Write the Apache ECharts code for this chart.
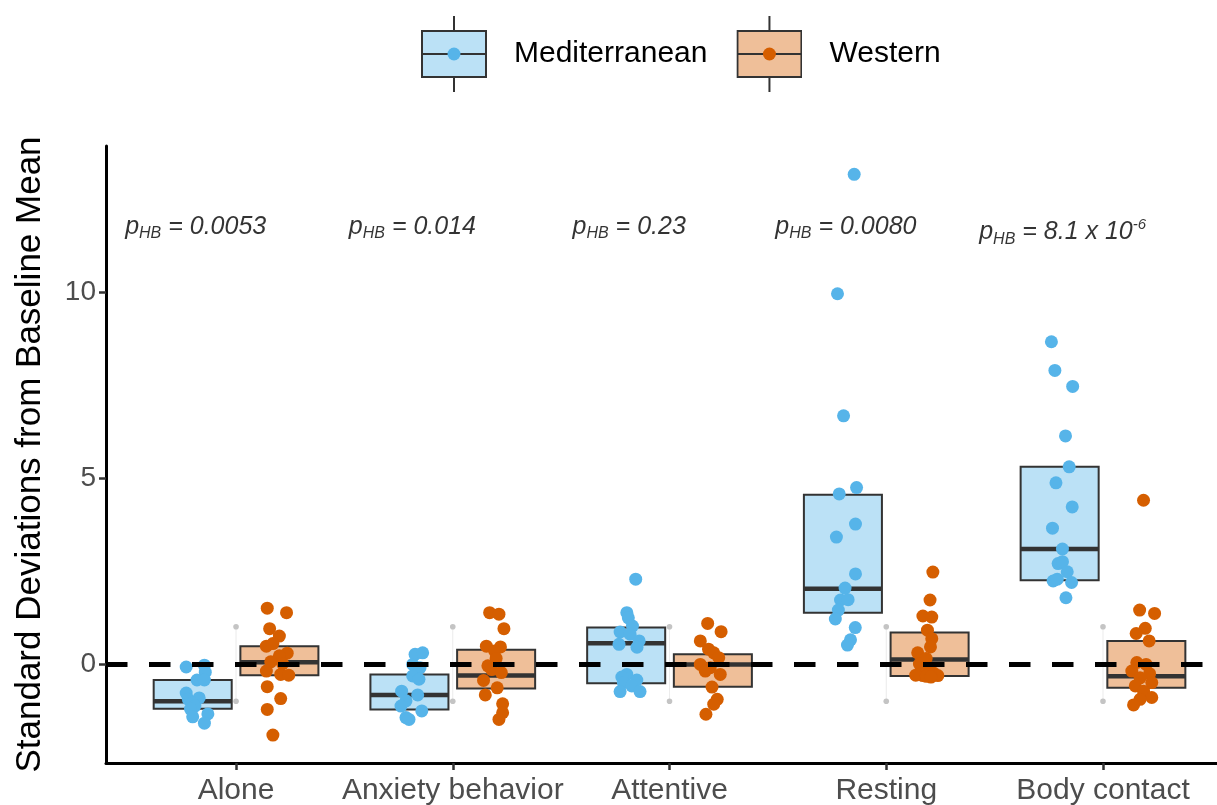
<!DOCTYPE html>
<html>
<head>
<meta charset="utf-8">
<script src="https://cdn.jsdelivr.net/npm/echarts@6/dist/echarts.min.js"></script>
<style>
  html, body { margin: 0; padding: 0; background: #fff; }
  #chart { width: 1217px; height: 805px; }
</style>
</head>
<body>
<div id="chart"></div>
<script>
var categories = ['Alone', 'Anxiety behavior', 'Attentive', 'Resting', 'Body contact'];
var groups = ['Mediterranean', 'Western'];
var yTicks = [0, 5, 10];
var baselineBand = [-1, 1];

// crossbar stats per category: [lower, median, upper]
var medBoxes = [[-1.20, -1.00, -0.43], [-1.22, -0.83, -0.28], [-0.52, 0.56, 0.98], [1.38, 2.02, 4.55], [2.25, 3.09, 5.30]];
var wesBoxes = [[-0.30, 0.05, 0.48], [-0.66, -0.31, 0.38], [-0.61, -0.01, 0.26], [-0.32, 0.12, 0.85], [-0.64, -0.33, 0.62]];

// individual animals
var medPoints = [
  [-0.08, -0.03, -0.22, -0.43, -0.43, -0.78, -0.91, -0.95, -1.05, -1.13, -1.21, -1.34, -1.42, -1.59],
  [0.26, 0.30, -0.01, -0.10, -0.32, -0.41, -0.73, -0.83, -0.99, -1.13, -1.26, -1.44, -1.49],
  [2.28, 1.38, 1.24, 1.02, 0.86, 0.80, 0.62, 0.53, 0.45, -0.28, -0.35, -0.43, -0.50, -0.59, -0.74, -0.74],
  [13.16, 9.95, 6.67, 4.57, 4.74, 3.76, 3.41, 2.42, 2.04, 1.72, 1.73, 1.45, 1.21, 0.98, 0.65, 0.51],
  [8.66, 7.89, 7.46, 6.13, 5.30, 4.87, 4.22, 3.65, 3.09, 2.70, 2.75, 2.48, 2.23, 2.28, 2.19, 1.78]
];
var medJitter = [
  [-0.03, 0.054, 0.058, 0.02, 0.054, -0.03, 0.03, -0.02, 0.0, 0.01, -0.01, 0.07, 0.0, 0.054],
  [0.026, 0.061, 0.015, 0.049, 0.015, 0.044, -0.036, 0.038, -0.016, -0.039, 0.057, -0.016, -0.002],
  [0.044, 0.003, 0.01, 0.029, -0.028, 0.018, 0.06, -0.033, 0.05, 0.003, -0.02, 0.049, -0.013, 0.026, -0.028, 0.064],
  [0.052, -0.025, 0.003, -0.017, 0.063, 0.058, -0.03, 0.058, 0.01, -0.011, 0.024, -0.021, -0.035, 0.057, 0.035, 0.021],
  [-0.038, -0.022, 0.06, 0.027, 0.044, -0.017, 0.058, -0.033, 0.013, -0.007, 0.013, 0.035, -0.03, -0.011, 0.055, 0.029]
];
var wesPoints = [
  [1.50, 1.38, 0.95, 0.75, 0.48, 0.55, 0.29, 0.22, 0.06, 0.01, -0.19, -0.28, -0.30, -0.61, -0.93, -1.22, -1.91],
  [1.38, 1.34, 0.95, 0.48, 0.46, 0.35, 0.15, -0.05, -0.15, -0.23, -0.44, -0.64, -0.83, -1.07, -1.31, -1.49],
  [1.09, 0.87, 0.62, 0.40, 0.30, 0.17, -0.01, -0.10, -0.28, -0.19, -0.62, -0.95, -1.08, -1.35],
  [2.47, 1.72, 1.29, 1.26, 0.91, 0.68, 0.46, 0.30, 0.15, 0.00, -0.16, -0.25, -0.31, -0.31, -0.30, -0.33, -0.35],
  [4.40, 1.45, 1.36, 0.96, 0.82, 0.62, 0.04, -0.01, -0.19, -0.26, -0.37, -0.50, -0.59, -0.73, -0.90, -0.95, -1.10]
];
var wesJitter = [
  [-0.056, 0.033, -0.045, 0.0, -0.06, -0.03, 0.036, 0.0, -0.04, 0.015, -0.06, 0.006, 0.043, -0.056, 0.006, -0.056, -0.03],
  [-0.03, 0.013, 0.036, -0.045, 0.02, -0.007, 0.0, -0.038, -0.02, 0.024, -0.058, 0.005, -0.05, 0.03, 0.03, 0.013],
  [-0.024, 0.038, -0.058, -0.02, 0.004, 0.027, -0.058, -0.012, 0.034, -0.035, -0.004, 0.02, 0.004, -0.032],
  [0.015, 0.002, -0.031, 0.01, -0.01, 0.01, 0.004, -0.055, -0.016, -0.047, -0.001, 0.02, -0.031, 0.038, -0.064, -0.015, 0.006],
  [-0.013, -0.031, 0.038, -0.005, -0.047, 0.013, -0.044, -0.001, -0.067, 0.015, -0.029, 0.025, -0.051, -0.013, 0.025, -0.029, -0.059]
];

var pValues = ['0.0053', '0.014', '0.23', '0.0080', '8.1 x 10^-6'];
var pLabelY = [11.75, 11.75, 11.75, 11.75, 11.6];

var FONT = '"Liberation Sans", Arial, Helvetica, sans-serif';
var MED_PT = '#56B4E9', WES_PT = '#D55E00';
var MED_FILL = '#BBE1F6', WES_FILL = '#EFBF99';
var DODGE = 0.2, HALF = 0.18;

function keyIcon(fill, dot) {
  var svg = '<svg xmlns="http://www.w3.org/2000/svg" width="66" height="76" viewBox="0 0 66 76">' +
    '<line x1="33" y1="0" x2="33" y2="15" stroke="#333" stroke-width="2"/>' +
    '<rect x="1" y="15" width="64" height="46" fill="' + fill + '" stroke="#333" stroke-width="2"/>' +
    '<line x1="1" y1="38" x2="65" y2="38" stroke="#333" stroke-width="2"/>' +
    '<line x1="33" y1="61" x2="33" y2="76" stroke="#333" stroke-width="2"/>' +
    '<circle cx="33" cy="38" r="6.5" fill="' + dot + '"/></svg>';
  return 'image://data:image/svg+xml;charset=utf-8,' + encodeURIComponent(svg);
}

function boxSeries(name, boxes, offset, fill) {
  return {
    name: name,
    type: 'custom',
    z: 2,
    data: boxes.map(function (b, i) { return [i + 1 + offset, b[0], b[1], b[2]]; }),
    encode: { x: 0, y: [1, 2, 3] },
    renderItem: function (params, api) {
      var x = api.value(0);
      var lo = api.coord([x - HALF, api.value(1)]);
      var hi = api.coord([x + HALF, api.value(3)]);
      var ml = api.coord([x - HALF, api.value(2)]);
      var mr = api.coord([x + HALF, api.value(2)]);
      return {
        type: 'group',
        children: [
          { type: 'rect', shape: { x: lo[0], y: hi[1], width: hi[0] - lo[0], height: lo[1] - hi[1] },
            style: { fill: fill, stroke: '#333', lineWidth: 2 } },
          { type: 'line', shape: { x1: ml[0], y1: ml[1], x2: mr[0], y2: mr[1] },
            style: { stroke: '#333', lineWidth: 4.5 } }
        ]
      };
    }
  };
}

function pointSeries(name, pts, jit, offset, color) {
  var data = [];
  pts.forEach(function (vals, i) {
    vals.forEach(function (v, j) { data.push([i + 1 + offset + jit[i][j], v]); });
  });
  return {
    name: name, type: 'scatter', z: 3, symbolSize: 13,
    itemStyle: { color: color, opacity: 1 },
    data: data
  };
}

var chart = echarts.init(document.getElementById('chart'), null, { renderer: 'canvas' });
chart.setOption({
  animation: false,
  backgroundColor: '#fff',
  textStyle: { fontFamily: FONT },
  legend: {
    top: 11, left: 416, itemWidth: 66, itemHeight: 76, itemGap: 29,
    selectedMode: false,
    textStyle: { fontSize: 30, color: '#000', padding: [0, 0, 0, 22], fontFamily: FONT },
    data: [
      { name: groups[0], icon: keyIcon(MED_FILL, MED_PT) },
      { name: groups[1], icon: keyIcon(WES_FILL, WES_PT) }
    ]
  },
  grid: { left: 106, right: 0, top: 146, bottom: 42, containLabel: false, outerBoundsMode: 'none' },
  xAxis: {
    type: 'value', min: 0.4, max: 5.526,
    axisLine: { show: true, onZero: false, lineStyle: { color: '#000', width: 3 } },
    axisTick: { show: true, length: 7, customValues: [1, 2, 3, 4, 5], lineStyle: { color: '#333', width: 2.5 } },
    axisLabel: { customValues: [1, 2, 3, 4, 5], fontSize: 30, color: '#4D4D4D', margin: 13,
      formatter: function (v) { return categories[Math.round(v) - 1] || ''; } },
    splitLine: { show: false }
  },
  yAxis: {
    type: 'value', min: -2.66, max: 13.92,
    name: 'Standard Deviations from Baseline Mean', nameLocation: 'middle', nameGap: 58,
    nameTextStyle: { fontSize: 35, color: '#000' },
    axisLine: { show: true, onZero: false, lineStyle: { color: '#000', width: 3 } },
    axisTick: { show: true, length: 7, customValues: yTicks, lineStyle: { color: '#333', width: 2.5 } },
    axisLabel: { customValues: yTicks, fontSize: 28, color: '#4D4D4D', margin: 10 },
    splitLine: { show: false }
  },
  series: [
    {
      name: 'baseline', type: 'custom', z: 1, silent: true,
      data: categories.map(function (c, i) { return [i + 1, baselineBand[0], baselineBand[1]]; }),
      encode: { x: 0, y: [1, 2] },
      renderItem: function (params, api) {
        var a = api.coord([api.value(0), api.value(1)]);
        var b = api.coord([api.value(0), api.value(2)]);
        return { type: 'group', children: [
          { type: 'line', shape: { x1: a[0], y1: a[1], x2: b[0], y2: b[1] }, style: { stroke: '#E6E6E6', lineWidth: 0.8 } },
          { type: 'circle', shape: { cx: a[0], cy: a[1], r: 2.8 }, style: { fill: '#C4C4C4' } },
          { type: 'circle', shape: { cx: b[0], cy: b[1], r: 2.8 }, style: { fill: '#C4C4C4' } }
        ] };
      }
    },
    boxSeries(groups[0], medBoxes, -DODGE, MED_FILL),
    boxSeries(groups[1], wesBoxes, DODGE, WES_FILL),
    pointSeries(groups[0], medPoints, medJitter, -DODGE, MED_PT),
    pointSeries(groups[1], wesPoints, wesJitter, DODGE, WES_PT),
    {
      name: 'pvalues', type: 'scatter', z: 4, symbolSize: 1, silent: true,
      itemStyle: { color: 'rgba(0,0,0,0)' },
      data: pValues.map(function (p, i) { return [i + 1 - DODGE, pLabelY[i], p]; }),
      label: {
        show: true, position: 'inside', color: '#000', offset: [3, 0],
        formatter: function (params) {
          var parts = params.value[2].split('^');
          var s = '{p|p}{sub|HB}{t| = ' + parts[0] + '}';
          if (parts[1]) s += '{sup|' + parts[1] + '}';
          return s;
        },
        rich: {
          p: { fontSize: 25, fontStyle: 'italic', fontFamily: FONT, lineHeight: 30, color: '#000' },
          sub: { fontSize: 16, fontStyle: 'italic', fontFamily: FONT, verticalAlign: 'bottom', lineHeight: 30, color: '#000' },
          t: { fontSize: 25, fontStyle: 'italic', fontFamily: FONT, lineHeight: 30, color: '#000' },
          sup: { fontSize: 15, fontStyle: 'italic', fontFamily: FONT, verticalAlign: 'top', lineHeight: 30, color: '#000' }
        }
      }
    },
    {
      name: 'zero', type: 'line', z: 5, silent: true, data: [],
      markLine: {
        silent: true, symbol: 'none', label: { show: false },
        lineStyle: { color: '#000', width: 5, type: [21.5, 21.5] },
        data: [{ yAxis: 0 }]
      }
    }
  ]
});
</script>
</body>
</html>
